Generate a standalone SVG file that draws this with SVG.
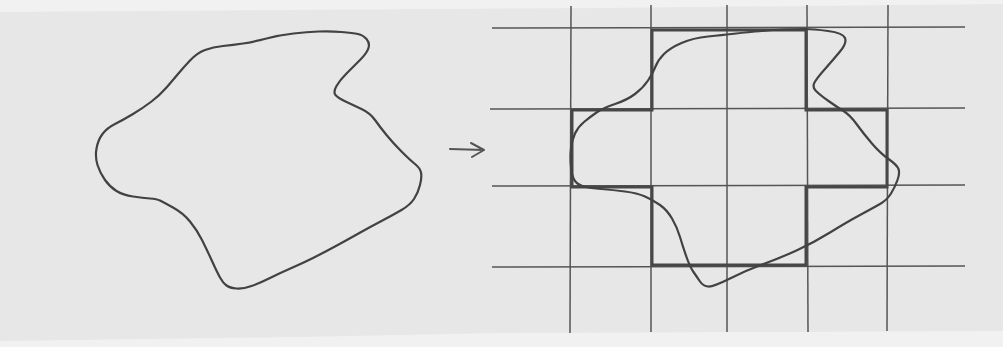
<svg xmlns="http://www.w3.org/2000/svg" width="1003" height="347" viewBox="0 0 1003 347">
<style>
.bg{fill:#e7e7e7}
.band{fill:#f1f1f1}
.grid line{stroke:#555;stroke-width:1.5}
.stair{fill:none;stroke:#474747;stroke-width:3;stroke-linejoin:miter}
.blob{fill:none;stroke:#424242;stroke-width:2.2;stroke-linejoin:round;stroke-linecap:round}
.arrow{fill:none;stroke:#555;stroke-width:2;stroke-linecap:round;stroke-linejoin:round}
</style>
<rect class="bg" x="0" y="0" width="1003" height="347"/>
<path class="band" d="M0,0 H1003 V4 L600,8 L0,12 Z"/>
<path class="band" d="M0,341 L300,337 L500,333 L1003,331 V347 H0 Z"/>

<g id="left-shape">
<path class="blob" d="M341.5,32 Q353,33 358,34 Q363,35 366.5,39 Q370,43 368.5,48 Q367,53 360,60 Q353,67 346.5,73.5 Q340,80 336.5,86 Q333,92 335.5,95 Q338,98 345.5,101.5 Q353,105 361.5,109 Q370,113 375,120 Q380,127 386.5,135 Q393,143 401.5,151.5 Q410,160 415,164 Q420,168 421,172.5 Q422,177 420,185 Q418,193 414,199 Q410,205 401.5,210 Q393,215 381.5,221 Q370,227 358.5,233.5 Q347,240 335,246.5 Q323,253 313,258 Q303,263 291.5,268 Q280,273 270,278 Q260,283 251.5,286 Q243,289 236.5,288.5 Q230,288 226.5,285.5 Q223,283 220,277.5 Q217,272 212,261 Q207,250 202,240 Q197,230 190,221.5 Q183,213 173,207.5 Q163,202 160,200.5 Q157,199 150,198.5 Q143,198 133,196.5 Q123,195 116.5,191 Q110,187 105,180 Q100,173 97.5,165 Q95,157 96.5,148.5 Q98,140 102.5,134 Q107,128 115,124 Q123,120 133,114 Q143,108 151.5,101.5 Q160,95 166.5,87.5 Q173,80 178,74 Q183,68 190,60.5 Q197,53 205,50 Q213,47 223,46 Q233,45 243,43.5 Q253,42 266.5,38.5 Q280,35 293.5,33.5 Q307,32 318.5,31.5 Q330,31 341.5,32 Z"/>
</g>

<g id="connectors">
<g id="arrow">
<path class="arrow" d="M450,149 L484,150 M471,143 L484,150 L472,157"/>
</g>
</g>

<g id="grid" class="grid">
<line x1="492" y1="28" x2="965" y2="27"/>
<line x1="490" y1="109" x2="965" y2="108"/>
<line x1="492" y1="186" x2="965" y2="185"/>
<line x1="492" y1="267" x2="965" y2="266"/>
<line x1="571" y1="6" x2="570" y2="333"/>
<line x1="651" y1="5" x2="651" y2="332"/>
<line x1="727" y1="5" x2="727" y2="332"/>
<line x1="807" y1="5" x2="808" y2="332"/>
<line x1="888" y1="5" x2="887" y2="331"/>
</g>

<g id="staircase">
<path class="stair" d="M652,30 H806 V110 H887 V187 H806 V265 H652 V187 H572 V110 H652 Z"/>
</g>

<g id="right-shape">
<path class="blob" d="M783.5,29.5 Q797,29 805,29 Q813,29 828,31 Q843,33 845,38 Q847,43 840,51.5 Q833,60 825,69 Q817,78 814.5,82.5 Q812,87 816,91 Q820,95 828.5,101 Q837,107 843.5,111 Q850,115 856.5,124 Q863,133 871.5,143 Q880,153 888.5,159 Q897,165 898.5,169 Q900,173 897.5,180 Q895,187 891,193.5 Q887,200 880,204 Q873,208 860,215 Q847,222 830,232.5 Q813,243 796.5,250.5 Q780,258 763.5,264 Q747,270 730,278.5 Q713,287 708,286.5 Q703,286 700,281.5 Q697,277 693.5,272 Q690,267 686.5,257 Q683,247 680,237 Q677,227 672,218.5 Q667,210 660,205 Q653,200 645,196.5 Q637,193 625,191.5 Q613,190 601.5,189 Q590,188 584,186.5 Q578,185 575,181 Q572,177 571,167 Q570,157 571,148.5 Q572,140 575,133.5 Q578,127 584,122 Q590,117 596.5,112.5 Q603,108 615,104 Q627,100 635,94 Q643,88 648,80.5 Q653,73 655.5,66.5 Q658,60 664,54 Q670,48 681.5,43 Q693,38 708,36.5 Q723,35 731.5,34 Q740,33 755,31.5 Q770,30 783.5,29.5 Z"/>
</g>
</svg>
